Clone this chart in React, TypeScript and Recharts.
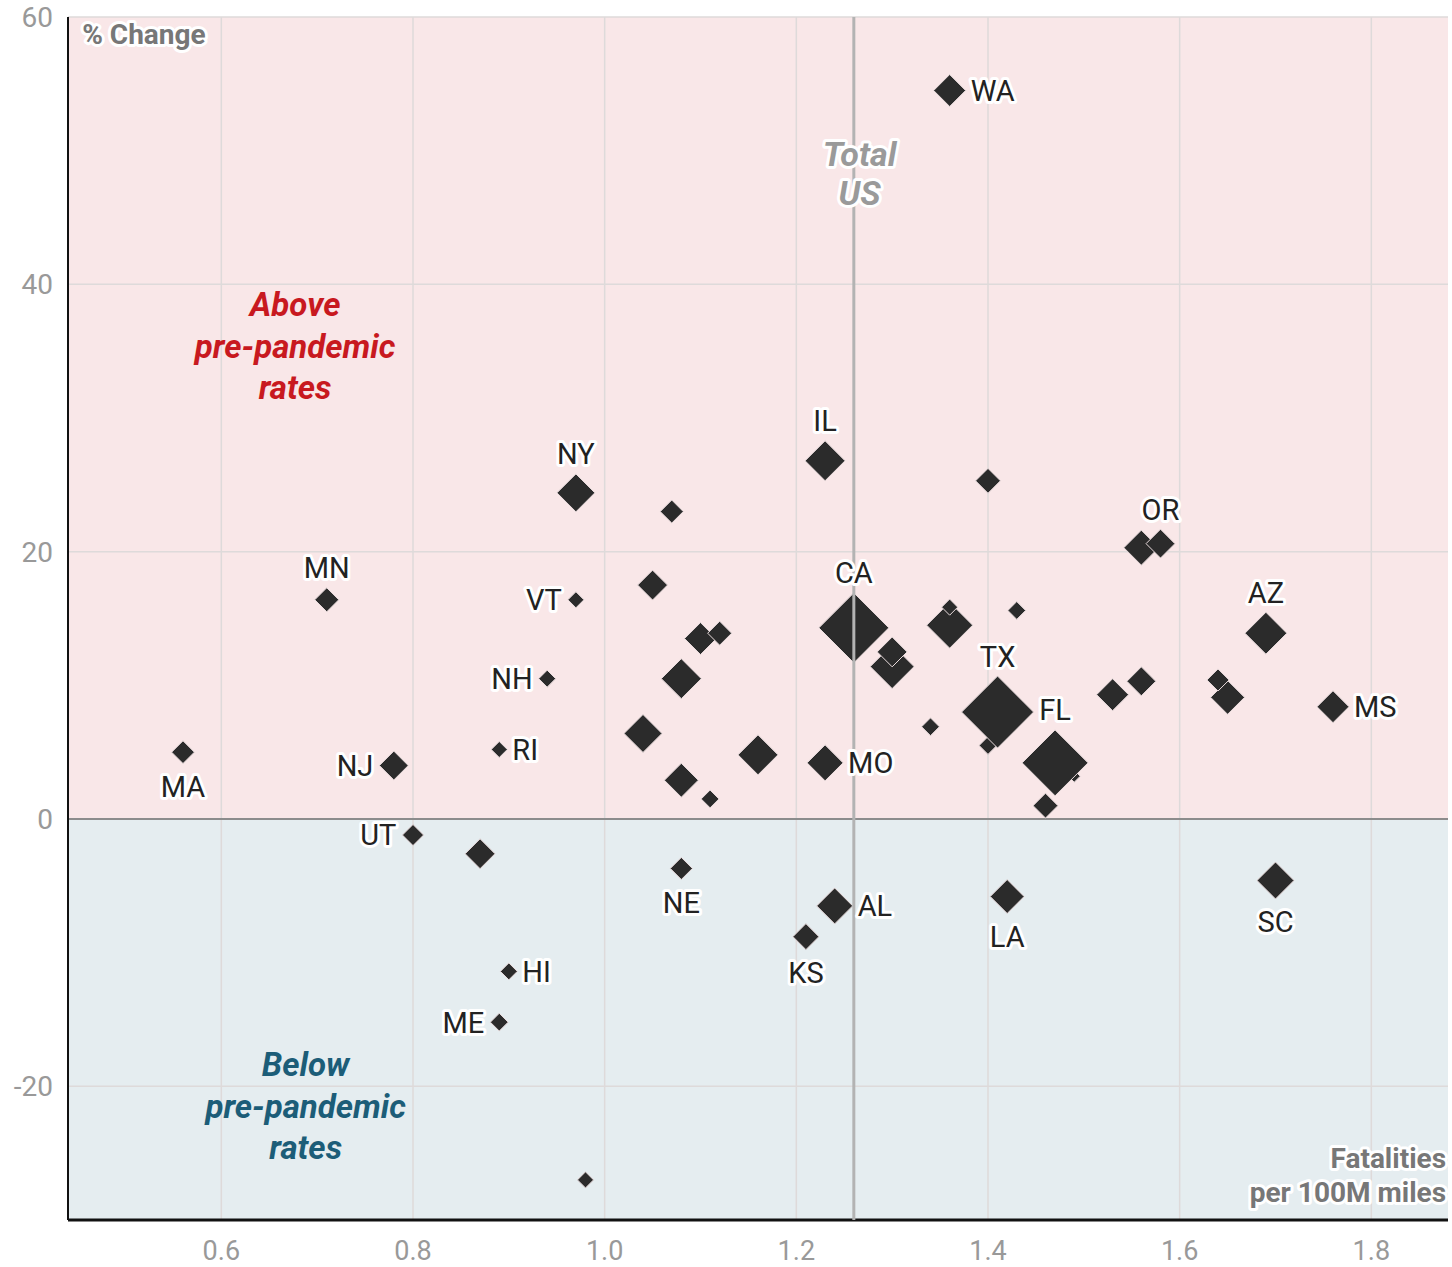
import React from 'react';
import {
  ScatterChart,
  Scatter,
  XAxis,
  YAxis,
  ZAxis,
  ReferenceArea,
  ReferenceLine,
  ReferenceDot,
} from 'recharts';

// Data (drawing order: earlier entries are drawn underneath)
const states = [
  '', '', 'TX', 'CA', 'FL', '', '', 'IL', '', 'AZ',
  '', '', 'NY', '', 'SC', '', '', 'MO', '', 'AL',
  'WA', 'LA', 'MS', '', '', 'OR', '', '', 'NJ', '',
  '', 'MN', '', '', 'KS', '', 'MA', '', 'UT', 'NE',
  '', '', '', 'VT', 'NH', 'RI', '', 'HI', 'ME', '',
];
const fatalityRate = [
  1.40, 1.49, 1.41, 1.26, 1.47, 1.36, 1.30, 1.23, 1.08, 1.69,
  1.16, 1.56, 0.97, 1.04, 1.70, 1.65, 1.10, 1.23, 1.08, 1.24,
  1.36, 1.42, 1.76, 1.30, 1.53, 1.58, 1.05, 1.56, 0.78, 0.87,
  1.40, 0.71, 1.12, 1.46, 1.21, 1.07, 0.56, 1.64, 0.80, 1.08,
  1.43, 1.34, 1.36, 0.97, 0.94, 0.89, 1.11, 0.90, 0.89, 0.98,
];
const pctChange = [
  5.5, 3.2, 8.0, 14.3, 4.2, 14.5, 11.4, 26.8, 10.5, 13.9,
  4.8, 20.3, 24.4, 6.4, -4.6, 9.1, 13.5, 4.2, 2.9, -6.5,
  54.5, -5.8, 8.4, 12.5, 9.3, 20.6, 17.5, 10.3, 4.0, -2.6,
  25.3, 16.4, 13.9, 1.0, -8.8, 23.0, 5.0, 10.4, -1.2, -3.7,
  15.6, 6.9, 15.85, 16.4, 10.5, 5.2, 1.5, -11.4, -15.2, -27.0,
];
// relative traffic volume (marker area)
const traffic = [
  22, 10, 360, 340, 302, 147, 134, 111, 111, 122,
  111, 85, 100, 100, 95, 80, 71, 90, 80, 90,
  71, 80, 71, 62, 71, 58, 62, 58, 58, 62,
  43, 40, 40, 43, 47, 37, 36, 34, 31, 34,
  22, 22, 18, 18, 20, 18, 22, 20, 22, 18,
];

const xTicks = [0.6, 0.8, 1.0, 1.2, 1.4, 1.6, 1.8];
const yTicks = [-20, 0, 20, 40, 60];
const gridY = [-20, 20, 40, 60];
const totalUS = 1.26;

const labelSide: Record<string, 'top' | 'bottom' | 'left' | 'right'> = {
  WA: 'right', IL: 'top', NY: 'top', OR: 'top', MN: 'top', VT: 'left',
  NH: 'left', CA: 'top', AZ: 'top', TX: 'top', FL: 'top', MS: 'right',
  MO: 'right', RI: 'right', NJ: 'left', MA: 'bottom', UT: 'left',
  NE: 'bottom', AL: 'right', LA: 'bottom', SC: 'bottom', KS: 'bottom',
  HI: 'right', ME: 'left',
};

const data = states.map((s, i) => ({
  state: s,
  x: fatalityRate[i],
  y: pctChange[i],
  z: traffic[i],
}));

const FONT = 'Roboto, "Noto Sans", sans-serif';
const Z_MAX = 360;
const Z_RANGE: [number, number] = [0, Z_MAX * 3.6 * Math.PI];

const halfOf = (p: any) => {
  if (p.width) return p.width / 2;
  if (p.size) return Math.sqrt(p.size / Math.PI);
  return 8;
};

const Diamond = (p: any) => {
  const { cx, cy } = p;
  if (cx == null || cy == null) return <g />;
  const h = halfOf(p);
  const d = `M${cx},${cy - h}L${cx + h},${cy}L${cx},${cy + h}L${cx - h},${cy}Z`;
  return <path d={d} fill="#2b2b2b" stroke="#e9dcdd" strokeWidth={1} strokeLinejoin="miter" />;
};

const StateLabel = (p: any) => {
  const { cx, cy, payload } = p;
  const name = payload?.state;
  if (!name || cx == null) return <g />;
  const h = halfOf(p);
  const side = labelSide[name] || 'top';
  let x = cx;
  let y = cy;
  let anchor: 'start' | 'middle' | 'end' = 'middle';
  if (side === 'top') y = cy - h - 20;
  if (side === 'bottom') y = cy + h + 23;
  if (side === 'right') { x = cx + h + 5; anchor = 'start'; }
  if (side === 'left') { x = cx - h - 6; anchor = 'end'; }
  return (
    <text
      x={x}
      y={y}
      dy="0.36em"
      textAnchor={anchor}
      fontFamily={FONT}
      fontSize={29}
      fill="#222"
      stroke="#ffffff"
      strokeWidth={6}
      strokeLinejoin="round"
      style={{ paintOrder: 'stroke' }}
    >
      {name}
    </text>
  );
};

const note = (
  lines: string[],
  opts: { color: string; size: number; italic?: boolean; anchor?: 'start' | 'middle' | 'end'; lh: number; halo?: boolean }
) => (p: any) => {
  const { cx, cy } = p;
  if (cx == null || cy == null) return <g />;
  const n = lines.length;
  const top = cy - ((n - 1) * opts.lh) / 2;
  return (
    <text
      textAnchor={opts.anchor || 'middle'}
      fontFamily={FONT}
      fontSize={opts.size}
      fontWeight={700}
      fontStyle={opts.italic ? 'italic' : 'normal'}
      fill={opts.color}
      stroke={opts.halo ? '#ffffff' : 'none'}
      strokeWidth={opts.halo ? 6 : 0}
      strokeLinejoin="round"
      style={{ paintOrder: 'stroke' }}
    >
      {lines.map((l, i) => (
        <tspan key={i} x={cx} y={top + i * opts.lh} dy="0.36em">
          {l}
        </tspan>
      ))}
    </text>
  );
};

export default function App() {
  const extra: any = {};
  return (
    <div style={{ position: 'absolute', left: 0, top: 0, width: 1452, height: 1267, background: '#fff' }}>
      <ScatterChart width={1452} height={1267} margin={{ top: 17, right: 4, left: 0, bottom: 0 }}>
        <ReferenceArea x1={0.44} x2={1.88} y1={0} y2={60} fill="#f9e7e8" fillOpacity={1} stroke="none" />
        <ReferenceArea x1={0.44} x2={1.88} y1={-30} y2={0} fill="#e5edf0" fillOpacity={1} stroke="none" />
        {xTicks.map((t) => (
          <ReferenceLine key={'gx' + t} x={t} stroke="#dedada" strokeWidth={1.5} />
        ))}
        {gridY.map((t) => (
          <ReferenceLine key={'gy' + t} y={t} stroke="#dedada" strokeWidth={1.5} />
        ))}
        <XAxis
          type="number"
          dataKey="x"
          domain={[0.44, 1.88]}
          ticks={xTicks}
          allowDataOverflow
          tickFormatter={(v: number) => v.toFixed(1)}
          height={47}
          tickLine={false}
          tickSize={10}
          tickMargin={11}
          axisLine={{ stroke: '#111', strokeWidth: 3 }}
          tick={{ fontFamily: FONT, fontSize: 27, fill: '#999' }}
        />
        <YAxis
          type="number"
          dataKey="y"
          domain={[-30, 60]}
          ticks={yTicks}
          allowDataOverflow
          width={68}
          tickLine={false}
          tickSize={8}
          tickMargin={7}
          axisLine={{ stroke: '#111', strokeWidth: 2 }}
          tick={{ fontFamily: FONT, fontSize: 28, fill: '#999' }}
        />
        <ZAxis type="number" dataKey="z" domain={[0, Z_MAX]} range={Z_RANGE} />
        <ReferenceLine y={0} stroke="#8c8c8c" strokeWidth={2} />
        <ReferenceDot
          x={0.677}
          y={35.4}
          r={0}
          shape={note(['Above', 'pre-pandemic', 'rates'], { color: '#c8191f', size: 33, italic: true, lh: 41.5 })}
        />
        <ReferenceDot
          x={0.688}
          y={-21.46}
          r={0}
          shape={note(['Below', 'pre-pandemic', 'rates'], { color: '#1c5d78', size: 33, italic: true, lh: 41.5 })}
        />
        <Scatter data={data} shape={Diamond} isAnimationActive={false} />
        <ReferenceLine x={totalUS} stroke="#b3b3b3" strokeWidth={3} {...extra} zIndex={700} />
        <ReferenceDot
          x={1.266}
          y={48.3}
          r={0}
          zIndex={800}
          shape={note(['Total', 'US'], { color: '#9a9a9a', size: 34, italic: true, lh: 39, halo: true })}
        />
        <ReferenceDot
          x={0.4548}
          y={58.7}
          r={0}
          zIndex={800}
          shape={note(['% Change'], { color: '#777', size: 28, anchor: 'start', lh: 30, halo: true })}
        />
        <ReferenceDot
          x={1.878}
          y={-26.6}
          r={0}
          zIndex={800}
          shape={note(['Fatalities', 'per 100M miles'], { color: '#777', size: 28, anchor: 'end', lh: 34, halo: true })}
        />
        <Scatter data={data} shape={StateLabel} isAnimationActive={false} zIndex={900} />
      </ScatterChart>
    </div>
  );
}
